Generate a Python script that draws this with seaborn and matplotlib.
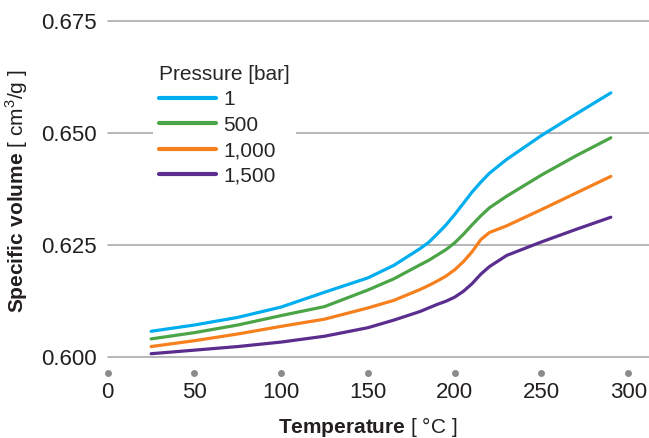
import pandas as pd
import seaborn as sns
import matplotlib.pyplot as plt
import matplotlib.transforms as mtransforms

# donnees
temperature = [25, 50, 75, 100, 125, 150, 165, 180, 185, 190, 195, 200, 205, 210, 215, 220,
               230, 250, 270, 290]
vol_1 = [0.6058, 0.6072, 0.6089, 0.6112, 0.6145, 0.6177, 0.6205, 0.6242, 0.6256, 0.6275,
         0.6295, 0.6318, 0.6343, 0.6368, 0.6390, 0.6410, 0.6441, 0.6494, 0.6542, 0.6589]
vol_500 = [0.6041, 0.6055, 0.6072, 0.6093, 0.6113, 0.6150, 0.6175, 0.6206, 0.6216, 0.6228,
           0.6240, 0.6255, 0.6274, 0.6295, 0.6315, 0.6333, 0.6359, 0.6406, 0.6449, 0.6489]
vol_1000 = [0.6024, 0.6037, 0.6052, 0.6069, 0.6085, 0.6110, 0.6127, 0.6151, 0.6160, 0.6170,
            0.6181, 0.6195, 0.6213, 0.6235, 0.6262, 0.6278, 0.6293, 0.6329, 0.6366, 0.6403]
vol_1500 = [0.6008, 0.6016, 0.6024, 0.6034, 0.6047, 0.6066, 0.6083, 0.6102, 0.6110, 0.6118,
            0.6125, 0.6134, 0.6147, 0.6164, 0.6185, 0.6202, 0.6227, 0.6257, 0.6285, 0.6312]
pressions = ["1", "500", "1,000", "1,500"]
couleurs = ["#00AEEF", "#4BA547", "#F7801E", "#5B2D8E"]
x_ticks = [0, 50, 100, 150, 200, 250, 300]
y_ticks = [0.600, 0.625, 0.650, 0.675]

df = pd.DataFrame({
    "Temperature": temperature * 4,
    "Volume": vol_1 + vol_500 + vol_1000 + vol_1500,
    "Pression": [p for p in pressions for _ in temperature],
})

sns.set_style("white")
plt.rcParams["font.family"] = ["Liberation Sans", "DejaVu Sans"]
plt.rcParams["mathtext.fontset"] = "custom"
plt.rcParams["mathtext.rm"] = "Liberation Sans"
plt.rcParams["mathtext.bf"] = "Liberation Sans:bold"

texte = "#231f20"
fig = plt.figure(figsize=(6.49, 4.38), dpi=100)
ax = fig.add_axes([0.166, 0.1842, 0.834, 0.7688])

sns.lineplot(data=df, x="Temperature", y="Volume", hue="Pression",
             palette=couleurs, hue_order=pressions, linewidth=2.3,
             estimator=None, sort=False, ax=ax)

ax.set_xlim(0, 312)
ax.set_ylim(0.600, 0.675)
ax.set_yticks(y_ticks)
ax.set_yticklabels([f"{v:.3f}" for v in y_ticks], fontsize=16, color=texte)
ax.set_xticks(x_ticks)
ax.set_xticklabels([str(v) for v in x_ticks], fontsize=16, color=texte)
ax.tick_params(axis="y", length=0, pad=8)
ax.tick_params(axis="x", length=0, pad=18)
for s in ax.spines.values():
    s.set_visible(False)
ax.grid(False)
for v in y_ticks:
    ax.axhline(v, color="#a3a3a3", lw=1.1, zorder=0, clip_on=False)

# points gris sous l'axe x
trans = mtransforms.blended_transform_factory(ax.transData, ax.transAxes)
ax.plot(x_ticks, [-0.046] * len(x_ticks), "o", color="#8c8c8c", markersize=4,
        transform=trans, clip_on=False)

ax.set_xlabel("")
ax.set_ylabel("")
fig.text(368 / 649, 1 - 433 / 438, r"$\bf{Temperature}$ [ °C ]", fontsize=15,
         color=texte, ha="center", va="baseline")
fig.text(17 / 649, 1 - 191 / 438, r"$\bf{Specific\ volume}$ [ cm$^3$/g ]", fontsize=15,
         color=texte, ha="center", va="center", rotation=90)

leg = ax.legend(title="Pressure [bar]", fontsize=15, title_fontsize=15,
                loc="upper left", bbox_to_anchor=(0.064, 0.918), frameon=True,
                facecolor="white", edgecolor="none", framealpha=1,
                handlelength=2.75, handletextpad=0.35, labelspacing=0.31,
                borderpad=0.3, alignment="left")
for line in leg.get_lines():
    line.set_linewidth(3)
leg.set_zorder(5)

fig.savefig("out.png", dpi=100)
